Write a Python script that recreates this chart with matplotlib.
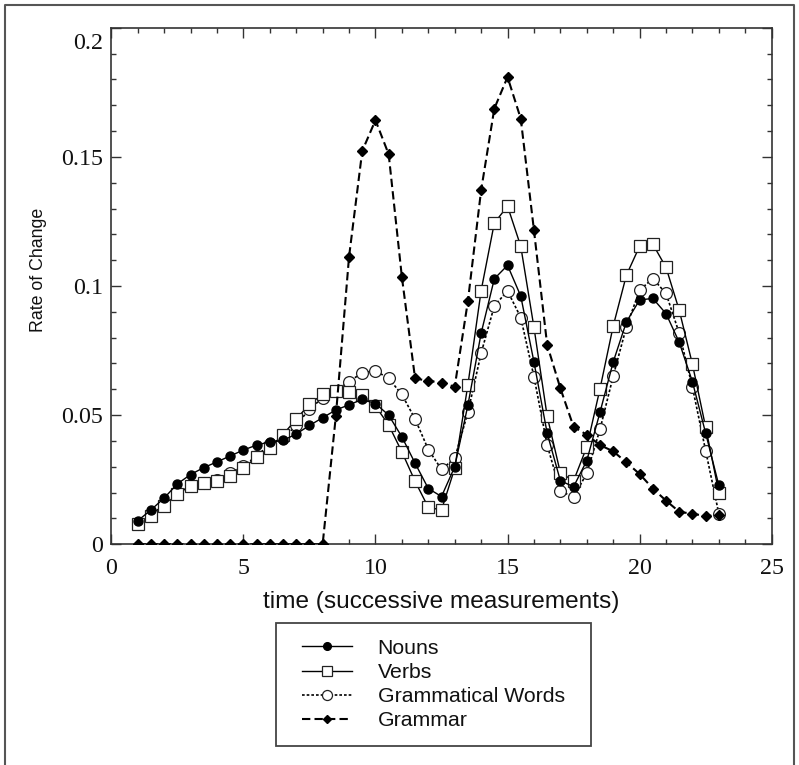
import numpy as np
import matplotlib
matplotlib.use("Agg")
import matplotlib.pyplot as plt
from matplotlib.lines import Line2D
from matplotlib.patches import Rectangle
from matplotlib.ticker import MultipleLocator, FixedLocator, FixedFormatter

# ---------------- data ----------------
time = [1, 1.5, 2, 2.5, 3, 3.5, 4, 4.5, 5, 5.5, 6, 6.5, 7, 7.5, 8, 8.5, 9, 9.5,
        10, 10.5, 11, 11.5, 12, 12.5, 13, 13.5, 14, 14.5, 15, 15.5, 16, 16.5,
        17, 17.5, 18, 18.5, 19, 19.5, 20, 20.5, 21, 21.5, 22, 22.5, 23]

nouns = [0.0091, 0.0133, 0.0179, 0.0234, 0.0270, 0.0297, 0.0319, 0.0342, 0.0365,
         0.0384, 0.0397, 0.0402, 0.0427, 0.0460, 0.0490, 0.0520, 0.0540, 0.0561,
         0.0545, 0.0500, 0.0416, 0.0314, 0.0216, 0.0185, 0.0300, 0.0539, 0.0817,
         0.1028, 0.1080, 0.0961, 0.0706, 0.0430, 0.0246, 0.0223, 0.0324, 0.0511,
         0.0706, 0.0861, 0.0946, 0.0952, 0.0893, 0.0782, 0.0629, 0.0430, 0.0228]

verbs = [0.0077, 0.0111, 0.0149, 0.0196, 0.0225, 0.0236, 0.0246, 0.0266, 0.0294,
         0.0338, 0.0374, 0.0425, 0.0484, 0.0543, 0.0580, 0.0594, 0.0590, 0.0577,
         0.0535, 0.0462, 0.0358, 0.0244, 0.0143, 0.0133, 0.0294, 0.0618, 0.0982,
         0.1244, 0.1309, 0.1154, 0.0840, 0.0496, 0.0277, 0.0246, 0.0377, 0.0602,
         0.0845, 0.1042, 0.1154, 0.1162, 0.1072, 0.0906, 0.0697, 0.0453, 0.0200]

gram_words = [0.0080, 0.0114, 0.0152, 0.0198, 0.0228, 0.0238, 0.0250, 0.0275, 0.0305,
              0.0340, 0.0390, 0.0410, 0.0460, 0.0524, 0.0566, 0.0595, 0.0630, 0.0664,
              0.0672, 0.0642, 0.0580, 0.0485, 0.0367, 0.0290, 0.0333, 0.0511, 0.0740,
              0.0923, 0.0981, 0.0878, 0.0649, 0.0384, 0.0207, 0.0182, 0.0275, 0.0445,
              0.0651, 0.0842, 0.0984, 0.1029, 0.0971, 0.0817, 0.0608, 0.0362, 0.0118]

grammar = [0, 0, 0, 0, 0, 0, 0, 0, 0, 0, 0, 0, 0, 0, 0,
           0.0496, 0.1113, 0.1523, 0.1642, 0.1510, 0.1035, 0.0642, 0.0633, 0.0626,
           0.0610, 0.0942, 0.1371, 0.1687, 0.1809, 0.1648, 0.1216, 0.0772, 0.0604,
           0.0455, 0.0424, 0.0384, 0.0360, 0.0317, 0.0272, 0.0216, 0.0169, 0.0126,
           0.0118, 0.0110, 0.0112]

series_labels = ["Nouns", "Verbs", "Grammatical Words", "Grammar"]
xtick_values = [0, 5, 10, 15, 20, 25]
ytick_values = [0, 0.05, 0.1, 0.15, 0.2]
ytick_labels = ["0", "0.05", "0.1", "0.15", "0.2"]

# ---------------- figure ----------------
W, H = 799, 765
fig = plt.figure(figsize=(W / 100, H / 100), dpi=100)
fig.patch.set_facecolor("white")

ax_l, ax_r, ax_t, ax_b = 111.3, 771.7, 27.7, 544.3
ax = fig.add_axes([ax_l / W, 1 - ax_b / H, (ax_r - ax_l) / W, (ax_b - ax_t) / H])

serif = ["Liberation Serif", "DejaVu Serif"]
sans = ["Liberation Sans", "DejaVu Sans"]

ax.plot(time, gram_words, color="black", lw=1.2, ls=(0, (1.6, 1.2)), marker="o", ms=8.5,
        mfc="white", mec="#222222", mew=0.9, label=series_labels[2], zorder=3)
ax.plot(time, verbs, color="black", lw=1.0, marker="s", ms=8,
        mfc="white", mec="#222222", mew=0.9, label=series_labels[1], zorder=3)
ax.plot(time, nouns, color="black", lw=1.0, marker="o", ms=6.5,
        mfc="black", mec="black", label=series_labels[0], zorder=3)
ax.plot(time, grammar, color="black", lw=1.5, ls=(0, (4, 2)), marker="D", ms=5.2,
        mfc="black", mec="black", label=series_labels[3], zorder=4)

ax.set_xlim(0, 25)
ax.set_ylim(0, 0.2)

ax.xaxis.set_major_locator(FixedLocator(xtick_values))
ax.xaxis.set_minor_locator(MultipleLocator(1))
ax.yaxis.set_major_locator(FixedLocator(ytick_values))
ax.yaxis.set_minor_locator(MultipleLocator(0.01))
ax.yaxis.set_major_formatter(FixedFormatter(ytick_labels[:-1] + [""]))

ax.tick_params(which="both", direction="in", top=True, right=True,
               color="#333333", width=1.0)
ax.tick_params(which="major", length=7)
ax.tick_params(which="minor", length=3.6)
ax.tick_params(axis="x", which="major", pad=10)
ax.tick_params(axis="y", which="major", pad=6.2)

for lab in ax.get_xticklabels() + ax.get_yticklabels():
    lab.set_fontfamily(serif)
    lab.set_fontsize(17.3)
    lab.set_color("#111111")

# top label "0.2" sits a bit below its tick in the original
ax.annotate(ytick_labels[-1], xy=(0, 0.2), xycoords=("axes fraction", "data"),
            xytext=(-6.2, -11.5), textcoords="offset points",
            ha="right", va="center", fontsize=17.3, family=serif, color="#111111")

for sp in ax.spines.values():
    sp.set_linewidth(1.2)
    sp.set_color("#333333")

ax.set_xlabel("time (successive measurements)", fontsize=17.6, family=sans, color="#111111")
ax.xaxis.set_label_coords(0.5, (ax_b - 601.7) / (ax_b - ax_t))
ax.xaxis.label.set_verticalalignment("center")

ax.set_ylabel("Rate of Change", fontsize=12.8, family=sans, color="#111111")
ax.yaxis.set_label_coords((38 - ax_l) / (ax_r - ax_l), (ax_b - 270) / (ax_b - ax_t))
ax.yaxis.label.set_verticalalignment("center")

# legend
lx0, lx1, ly0, ly1 = 276, 591, 623, 746
handles, labels = ax.get_legend_handles_labels()
order = [labels.index(s) for s in series_labels]
leg = fig.legend([handles[i] for i in order], [labels[i] for i in order], loc="center",
                 bbox_to_anchor=((lx0 + lx1) / 2 / W, 1 - (ly0 + ly1) / 2 / H),
                 frameon=False, prop={"family": sans, "size": 15.3},
                 handlelength=2.35, handletextpad=1.2, labelspacing=0.24,
                 borderpad=0, markerscale=0.85)
for t in leg.get_texts():
    t.set_color("#111111")
fig.add_artist(Rectangle((lx0 / W, 1 - ly1 / H), (lx1 - lx0) / W, (ly1 - ly0) / H,
                         transform=fig.transFigure, fill=False,
                         edgecolor="#444444", lw=1.3))

# outer frame around the whole figure
bx0, bx1, by0 = 5, 794, 5
fig.add_artist(Line2D([bx0 / W, bx0 / W, bx1 / W, bx1 / W], [0, 1 - by0 / H, 1 - by0 / H, 0],
                      transform=fig.transFigure, color="#555555", lw=1.5))

fig.savefig("out.png", dpi=100)
